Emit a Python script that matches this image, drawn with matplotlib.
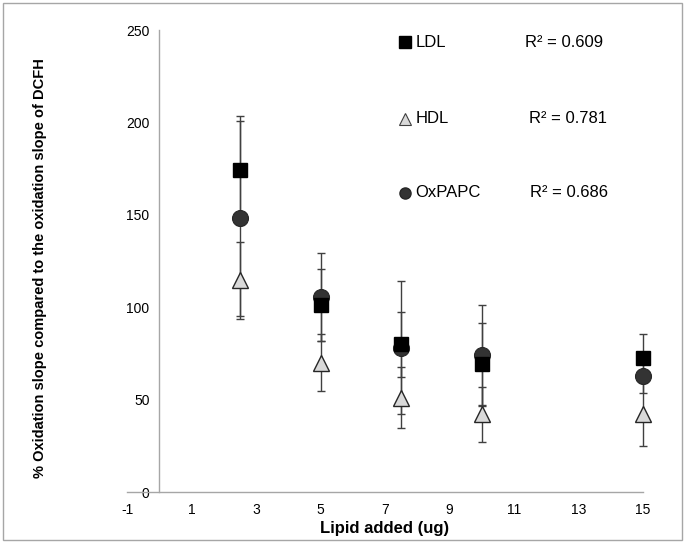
import matplotlib
matplotlib.use("Agg")
import matplotlib.pyplot as plt
from matplotlib.patches import Rectangle

plt.rcParams['font.family'] = ['Liberation Sans', 'DejaVu Sans']
plt.rcParams['axes.unicode_minus'] = False

x = [2.5, 5, 7.5, 10, 15]
ldl = [174, 101, 80, 69, 72.5]
ldl_err = [29.5, 19.5, 17.5, 22.5, 13]
hdl = [114.5, 70, 51, 42, 42]
hdl_err = [21, 15.5, 16.5, 15, 17]
ox = [148, 105.5, 78, 74, 63]
ox_err = [53, 24, 36, 27, 9.5]

series = ["LDL", "HDL", "OxPAPC"]
r2 = ["0.609", "0.781", "0.686"]
xticks = [-1, 1, 3, 5, 7, 9, 11, 13, 15]
yticks = [0, 50, 100, 150, 200, 250]

fig = plt.figure(figsize=(6.85, 5.43), dpi=100)
ax = fig.add_axes([127/685, 1-492/543, (643-127)/685, (492-30)/543])
ax.set_xlim(-1, 15)
ax.set_ylim(0, 250)

ecol = '#404040'
for vals, errs in [(ldl, ldl_err), (hdl, hdl_err), (ox, ox_err)]:
    eb = ax.errorbar(x, vals, yerr=errs, fmt='none', ecolor=ecol, elinewidth=1,
                     capsize=3, capthick=1, zorder=2)
    for art in eb.lines[1] + eb.lines[2]:
        art.set_clip_on(False)

ax.plot(x, hdl, linestyle='none', marker='^', markersize=12, markerfacecolor='#d9d9d9',
        markeredgecolor='#262626', markeredgewidth=1, zorder=3, clip_on=False)
ax.plot(x, ox, linestyle='none', marker='o', markersize=11.5, markerfacecolor='#333333',
        markeredgecolor='#262626', markeredgewidth=0.8, zorder=4, clip_on=False)
ax.plot(x, ldl, linestyle='none', marker='s', markersize=10.5, markerfacecolor='#000000',
        markeredgecolor='#000000', zorder=5, clip_on=False)

for s in ['top', 'right']:
    ax.spines[s].set_visible(False)
ax.spines['left'].set_position(('data', 0))
ax.spines['left'].set_color('#a6a6a6')
ax.spines['bottom'].set_color('#a6a6a6')
ax.spines['left'].set_linewidth(1)
ax.spines['bottom'].set_linewidth(1)

ax.set_xticks(xticks)
ax.set_yticks(yticks)
ax.tick_params(axis='both', length=0, labelsize=10, colors='#000000')
ax.tick_params(axis='x', pad=8)
ax.tick_params(axis='y', pad=7)

ax.set_xlabel("Lipid added (ug)", fontsize=12, fontweight='bold', labelpad=3)
fig.text(40/685, 1-268/543, "% Oxidation slope compared to the oxidation slope of DCFH",
         rotation=90, ha='center', va='center', fontsize=10.5, fontweight='bold')

# legend-like annotations
leg_y = [243.5, 202, 162]
mk = [dict(marker='s', markersize=8, markerfacecolor='#000000', markeredgecolor='#000000'),
      dict(marker='^', markersize=8, markerfacecolor='#d9d9d9', markeredgecolor='#404040', markeredgewidth=0.8),
      dict(marker='o', markersize=8, markerfacecolor='#333333', markeredgecolor='#262626')]
r2_x = [11.33, 11.45, 11.5]
for name, r, yv, m, rx in zip(series, r2, leg_y, mk, r2_x):
    ax.plot([7.62], [yv], linestyle='none', clip_on=False, **m)
    ax.text(7.95, yv, name, fontsize=12, ha='left', va='center')
    ax.text(rx, yv, "R² = " + r, fontsize=12, ha='left', va='center')

fig.add_artist(Rectangle((3/685, 3/543), 679/685, 537/543, transform=fig.transFigure,
                         fill=False, edgecolor='#a6a6a6', linewidth=1))

fig.savefig("out.png", dpi=100)
